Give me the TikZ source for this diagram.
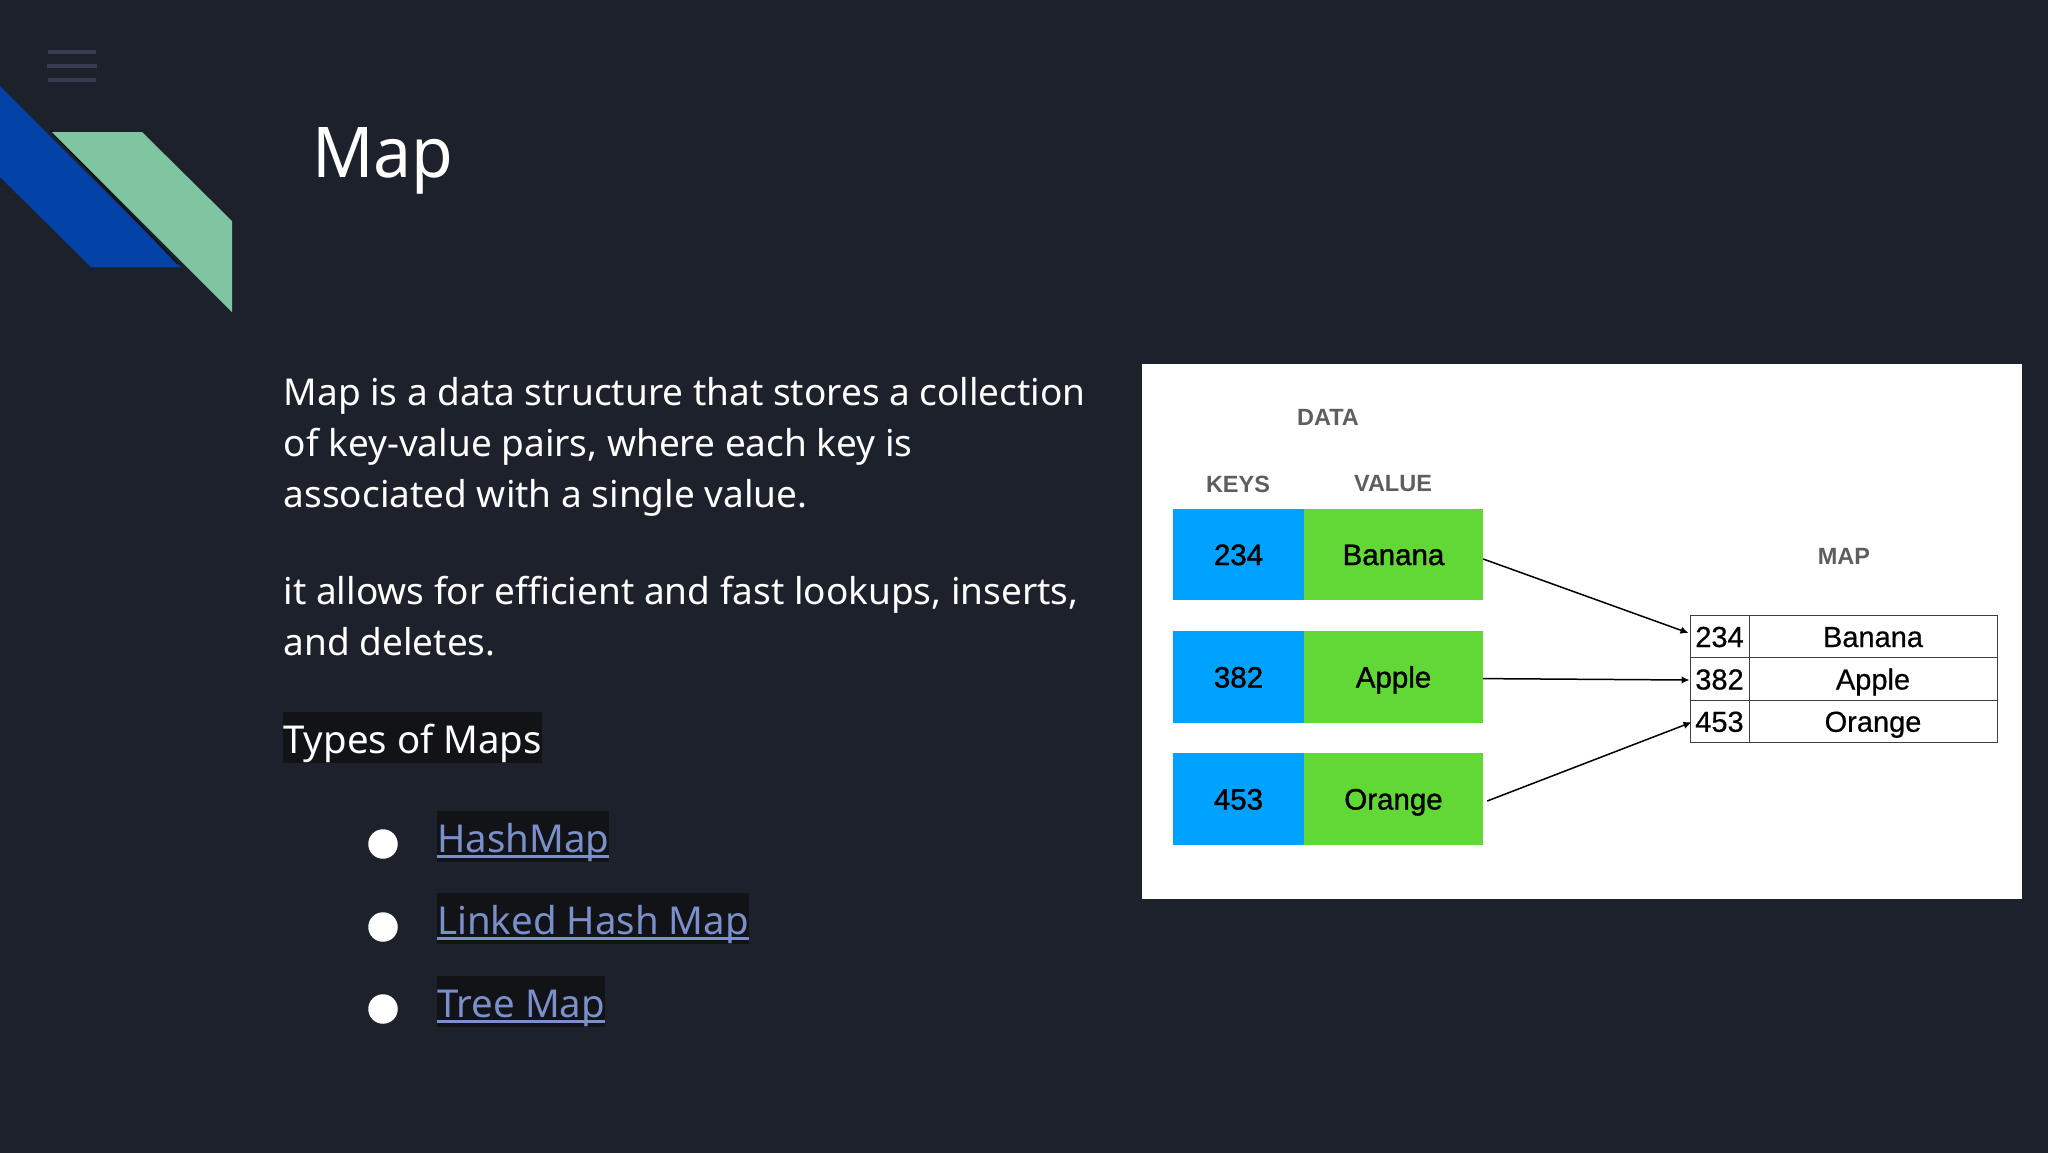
\documentclass[tikz,border=0pt]{standalone}
\usepackage{fontspec}
\usetikzlibrary{arrows.meta,calc}
\setmainfont{Noto Sans}
\newfontfamily\titlef{Noto Sans}[FakeStretch=0.97]
\newfontfamily\arialf{Liberation Sans}
\newfontfamily\arialm{Liberation Sans}[FakeBold=1.2]
\newfontfamily\arialn{Liberation Sans}[FakeBold=0.5]
\definecolor{bgc}{HTML}{1D212C}
\definecolor{burger}{HTML}{373D4F}
\definecolor{deepblue}{HTML}{0343A8}
\definecolor{mint}{HTML}{80C5A2}
\definecolor{hlc}{HTML}{111317}
\definecolor{linkc}{HTML}{7B8FCB}
\definecolor{keyblue}{HTML}{00A2FF}
\definecolor{valgreen}{HTML}{61D836}
\definecolor{capgray}{HTML}{5E5E5E}
\newcommand\lnk[1]{\setbox0=\hbox{#1}\rlap{\rule[-6pt]{\wd0}{3pt}}\box0}
\tikzset{
  body/.style={text=white,inner sep=0pt,align=left,anchor=north west,font=\fontsize{37}{51}\selectfont},
  hl/.style={fill=hlc,inner xsep=0pt,inner ysep=0pt,anchor=base west,text height=41pt,text depth=10pt,font=\fontsize{38.4}{51}\selectfont},
  bullet/.style={circle,fill=white,minimum size=29.5pt,inner sep=0pt},
  keycell/.style={fill=keyblue,minimum width=131pt,minimum height=91.5pt,inner sep=0pt,text height=21pt,text depth=0pt,font=\arialm\fontsize{29.5}{30}\selectfont,text=black},
  valcell/.style={fill=valgreen,minimum width=179pt,minimum height=91.5pt,inner sep=0pt,text height=21pt,text depth=0pt,font=\arialm\fontsize{29.5}{30}\selectfont,text=black},
  captext/.style={text=capgray,inner sep=0pt,font=\arialf\bfseries\fontsize{23.5}{24}\selectfont},
  mapcell/.style={draw=black!75,line width=1pt,minimum height=42.3pt,inner sep=0pt,text height=21pt,text depth=0pt,font=\arialn\fontsize{29}{30}\selectfont,text=black},
  conn/.style={draw=black,line width=1.5pt,-{Latex[length=8pt,width=7.5pt]}},
}
\begin{document}
\begin{tikzpicture}[x=1pt,y=-1pt]
\useasboundingbox (0,0) rectangle (2048,1152);
\fill[bgc] (-3,-3) rectangle (2051,1155);
% menu icon
\fill[burger] (48,50) rectangle (96,54);
\fill[burger] (47,64) rectangle (97,68);
\fill[burger] (48,78) rectangle (96,82);
% ribbons
\fill[deepblue] (0,86) -- (181,267) -- (91,267) -- (0,177) -- cycle;
\draw[black!50!bgc,line width=1.5pt] (51,131) -- (178,264);
\fill[mint] (52,132) -- (142,132) -- (232,221) -- (232,312) -- cycle;
% title
\node[text=white,inner sep=0pt,anchor=base west,font=\titlef\fontsize{70}{70}\selectfont] (title) at (312,177) {Map};
% text
\node[body] (p1) at (283.5,377.5) {Map is a data structure that stores a collection\\of key-value pairs, where each key is\\associated with a single value.};
\node[body] (p2) at (283.5,575.5) {it allows for efficient and fast lookups, inserts,\\and deletes.};
\node[hl,text=white] (types) at (283,753) {Types of Maps};
\node[bullet] (b1) at (383,844) {};
\node[bullet] (b2) at (383,927) {};
\node[bullet] (b3) at (383,1009) {};
\node[hl,text=linkc] (l1) at (437,852) {\color{linkc}\lnk{HashMap}};
\node[hl,text=linkc] (l2) at (437,934) {\color{linkc}\lnk{Linked Hash Map}};
\node[hl,text=linkc] (l3) at (437,1017) {\color{linkc}\lnk{Tree Map}};
% image panel
\fill[white] (1141.5,364) rectangle (2022,899);
\node[captext] (data) at (1328,417) {DATA};
\node[captext] (keys) at (1238,484) {KEYS};
\node[captext] (value) at (1393,484) {VALUE};
\node[captext] (map) at (1844,556) {MAP};
\node[keycell] (k1) at (1238.5,554.5) {234};
\node[valcell] (v1) at (1393.5,554.5) {Banana};
\node[keycell] (k2) at (1238.5,677) {382};
\node[valcell] (v2) at (1393.5,677) {Apple};
\node[keycell] (k3) at (1238.5,799) {453};
\node[valcell] (v3) at (1393.5,799) {Orange};
\node[mapcell,minimum width=59pt] (m1) at (1719.5,636.5) {234};
\node[mapcell,minimum width=248pt] (n1) at (1873,636.5) {Banana};
\node[mapcell,minimum width=59pt] (m2) at (1719.5,679) {382};
\node[mapcell,minimum width=248pt] (n2) at (1873,679) {Apple};
\node[mapcell,minimum width=59pt] (m3) at (1719.5,721.3) {453};
\node[mapcell,minimum width=248pt] (n3) at (1873,721.3) {Orange};
\path[conn] ([yshift=-4.5pt]v1.east) -- ([xshift=-1pt,yshift=3.5pt]m1.west);
\path[conn] ([yshift=-1.6pt]v2.east) -- ([yshift=-1pt]m2.west);
\path[conn] ([xshift=4pt,yshift=-2pt]v3.east) -- ([xshift=2pt,yshift=-1pt]m3.west);
\end{tikzpicture}
\end{document}
